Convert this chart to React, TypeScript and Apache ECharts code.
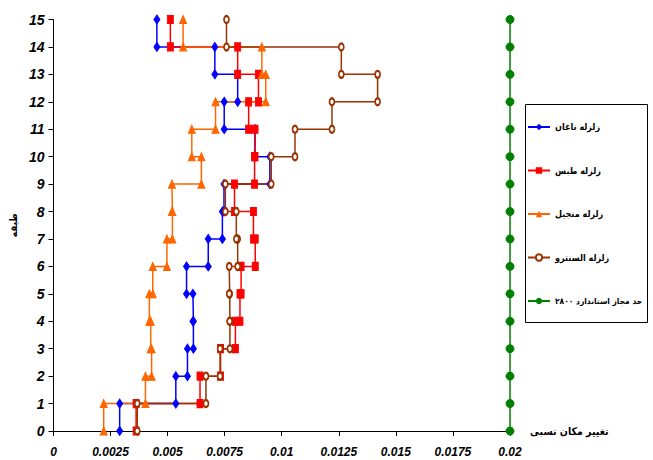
import React, { useEffect, useRef } from "react";
import * as echarts from "echarts";

// Inter-story drift per storey (story i spans level i to level i+1)
const naghanDrift = [0.0029, 0.00536, 0.00587, 0.00613, 0.00611, 0.00583, 0.00678, 0.0074, 0.00747, 0.00948, 0.00883, 0.00748, 0.00807, 0.00707, 0.00453];
const tabasDrift = [0.00362, 0.00642, 0.00732, 0.00797, 0.00817, 0.00822, 0.00884, 0.00876, 0.00793, 0.00881, 0.00883, 0.00855, 0.00898, 0.00807, 0.00512];
const manjilDrift = [0.0022, 0.00403, 0.0043, 0.00426, 0.0042, 0.00435, 0.00497, 0.00521, 0.00519, 0.00648, 0.00606, 0.0071, 0.0093, 0.00913, 0.00568];
const elCentroDrift = [0.00367, 0.00668, 0.0073, 0.00773, 0.00772, 0.0077, 0.00807, 0.00801, 0.00753, 0.00954, 0.01058, 0.0122, 0.0142, 0.01261, 0.00758];
const limitDrift = 0.02;
const levels = [0, 1, 2, 3, 4, 5, 6, 7, 8, 9, 10, 11, 12, 13, 14, 15];

const seriesNames = ["زلزله ناغان", "زلزله طبس", "زلزله منجیل", "زلزله السنترو", "حد مجاز استاندارد ۲۸۰۰"];
const xTickLabels = ["0", "0.0025", "0.005", "0.0075", "0.01", "0.0125", "0.015", "0.0175", "0.02"];
const xAxisTitle = "تغییر مکان نسبی";
const yAxisTitle = "طبقه";

function stepPoints(drifts: number[]): number[][] {
  const pts: number[][] = [];
  drifts.forEach((d, i) => {
    pts.push([d, i]);
    pts.push([d, i + 1]);
  });
  return pts;
}

const numFont = "'Liberation Sans Narrow', 'Arial Narrow', 'Liberation Sans', Arial, sans-serif";
const arFont = "'DejaVu Sans Condensed', 'DejaVu Sans', sans-serif";

export default function App() {
  const ref = useRef<HTMLDivElement>(null);
  useEffect(() => {
    document.body.style.margin = "0";
    if (!ref.current) return;
    const chart = echarts.init(ref.current, undefined, { renderer: "svg" });
    const mk = (name: string, color: string, data: number[][], symbol: string, size: number[] | number, extra: any = {}) => ({
      name,
      type: "line",
      data,
      symbol,
      symbolSize: size,
      showAllSymbol: true,
      lineStyle: { color, width: 1.5 },
      itemStyle: { color, borderColor: color },
      emphasis: { disabled: true },
      ...extra,
    });
    const legendText = { fontFamily: arFont, fontWeight: "bold", fontSize: 9, color: "#000", lineHeight: 14 };
    const option: any = {
      animation: false,
      backgroundColor: "#fff",
      grid: { left: 50, right: 143, top: 19.5, bottom: 29, containLabel: false },
      xAxis: {
        type: "value",
        min: 0,
        max: 0.02,
        interval: 0.0025,
        name: xAxisTitle,
        nameLocation: "end",
        nameGap: 20,
        nameTextStyle: { fontFamily: arFont, fontWeight: "bold", fontSize: 10.5, color: "#000", align: "left", verticalAlign: "middle" },
        axisLine: { show: true, lineStyle: { color: "#000", width: 1 } },
        axisTick: { show: true, length: 5, lineStyle: { color: "#000" } },
        axisLabel: {
          margin: 15,
          fontFamily: numFont,
          fontWeight: "bold",
          fontStyle: "italic",
          fontSize: 12,
          color: "#000",
          formatter: (v: number) => xTickLabels[Math.round(v / 0.0025)] ?? "",
        },
        splitLine: { show: false },
      },
      yAxis: {
        type: "value",
        min: 0,
        max: 15,
        interval: 1,
        name: yAxisTitle,
        nameLocation: "middle",
        nameRotate: 90,
        nameGap: 22,
        nameTextStyle: { fontFamily: arFont, fontWeight: "bold", fontSize: 10, color: "#000" },
        axisLine: { show: true, lineStyle: { color: "#000", width: 1 } },
        axisTick: { show: true, length: 5, lineStyle: { color: "#000" } },
        axisLabel: { margin: 9, fontFamily: numFont, fontWeight: "bold", fontStyle: "italic", fontSize: 14, color: "#000" },
        splitLine: { show: false },
      },
      legend: {
        orient: "vertical",
        left: 527,
        top: 120,
        padding: 0,
        itemWidth: 22,
        itemHeight: 8,
        itemGap: 29.5,
        textStyle: legendText,
        data: seriesNames.map((n, i) =>
          i === 4 ? { name: n, textStyle: { ...legendText, fontSize: 8.4 } } : { name: n }
        ),
      },
      graphic: [
        {
          type: "rect",
          shape: { x: 525.5, y: 104.5, width: 122, height: 218 },
          style: { fill: "transparent", stroke: "#000", lineWidth: 1 },
          silent: true,
        },
      ],
      series: [
        mk(seriesNames[0], "#0000FF", stepPoints(naghanDrift), "diamond", [6, 9]),
        mk(seriesNames[1], "#FF0000", stepPoints(tabasDrift), "rect", [6, 8]),
        mk(seriesNames[2], "#FF6600", stepPoints(manjilDrift), "triangle", [7, 8]),
        mk(seriesNames[3], "#993300", stepPoints(elCentroDrift), "emptyCircle", [5, 7], {
          itemStyle: { color: "#993300", borderColor: "#993300", borderWidth: 1.2 },
        }),
        mk(seriesNames[4], "#008000", levels.map((l) => [limitDrift, l]), "circle", [8, 8]),
      ],
    };
    chart.setOption(option);
    return () => chart.dispose();
  }, []);
  return <div ref={ref} style={{ width: 653, height: 460 }} />;
}
